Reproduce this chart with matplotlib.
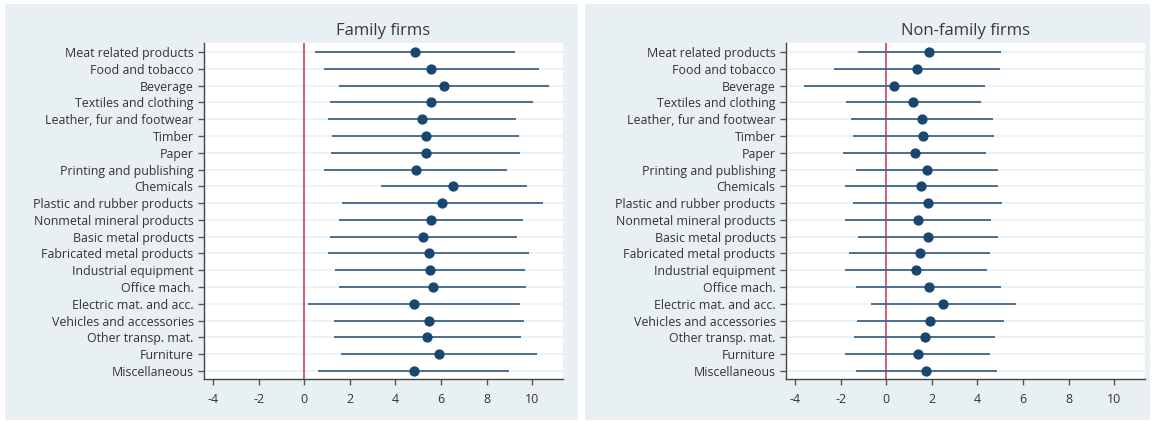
import matplotlib.pyplot as plt
from matplotlib.patches import Rectangle

plt.rcParams['font.family'] = ['Open Sans', 'DejaVu Sans']

# Sectors (top to bottom)
sectors = ["Meat related products", "Food and tobacco", "Beverage",
           "Textiles and clothing", "Leather, fur and footwear", "Timber",
           "Paper", "Printing and publishing", "Chemicals",
           "Plastic and rubber products", "Nonmetal mineral products",
           "Basic metal products", "Fabricated metal products",
           "Industrial equipment", "Office mach.", "Electric mat. and acc.",
           "Vehicles and accessories", "Other transp. mat.", "Furniture",
           "Miscellaneous"]

# Family firms: point estimate, lower and upper CI bounds
fam_est = [4.85, 5.56, 6.11, 5.56, 5.17, 5.32, 5.32, 4.88, 6.54, 6.03,
           5.56, 5.20, 5.45, 5.51, 5.63, 4.80, 5.46, 5.40, 5.93, 4.80]
fam_lo = [0.46, 0.85, 1.51, 1.11, 1.06, 1.22, 1.17, 0.86, 3.35, 1.64,
          1.54, 1.11, 1.06, 1.35, 1.53, 0.15, 1.32, 1.32, 1.63, 0.62]
fam_hi = [9.24, 10.29, 10.72, 10.03, 9.28, 9.43, 9.46, 8.89, 9.77, 10.46,
          9.61, 9.33, 9.85, 9.69, 9.72, 9.46, 9.63, 9.50, 10.23, 8.98]

# Non-family firms
non_est = [1.88, 1.33, 0.36, 1.17, 1.57, 1.63, 1.25, 1.78, 1.54, 1.81,
           1.39, 1.83, 1.46, 1.31, 1.86, 2.49, 1.93, 1.68, 1.38, 1.76]
non_lo = [-1.26, -2.30, -3.61, -1.78, -1.54, -1.46, -1.88, -1.34, -1.83, -1.46,
          -1.83, -1.25, -1.62, -1.81, -1.33, -0.66, -1.28, -1.41, -1.80, -1.34]
non_hi = [5.02, 4.97, 4.34, 4.14, 4.68, 4.74, 4.37, 4.89, 4.89, 5.06,
          4.61, 4.90, 4.55, 4.42, 5.05, 5.68, 5.15, 4.79, 4.55, 4.85]

xticks = [-4, -2, 0, 2, 4, 6, 8, 10]

W, H = 1153, 421
fig = plt.figure(figsize=(W / 100, H / 100), dpi=100)
fig.patch.set_facecolor('white')

bg = '#e8f0f3'
# panel backgrounds (pixel coords from top-left)
for x0, x1 in [(5, 578), (585, 1150)]:
    fig.add_artist(Rectangle((x0 / W, 1 - 420 / H), (x1 - x0) / W, (420 - 4) / H,
                             transform=fig.transFigure, facecolor=bg,
                             edgecolor='none', zorder=0))

def panel(left, right, title, est, lo, hi):
    ax = fig.add_axes([left / W, 1 - 379 / H, (right - left) / W, (379 - 43) / H])
    ax.set_facecolor('white')
    y = list(range(len(sectors)))
    for yy in y:
        ax.axhline(yy, color='#eaf1f4', lw=1.2, zorder=1)
    ax.axvline(0, color='#c8304d', lw=1.1, zorder=2)
    ax.hlines(y, lo, hi, color='#3f6489', lw=1.3, zorder=3)
    ax.plot(est, y, 'o', color='#1a476f', ms=6.4, zorder=4)
    ax.set_xlim(-4.4, 11.35)
    ax.set_ylim(len(sectors) - 0.52, -0.54)
    ax.set_yticks(y)
    ax.set_yticklabels(sectors)
    ax.set_xticks(xticks)
    ax.set_xticklabels([str(t) for t in xticks])
    ax.tick_params(axis='both', colors='#555555', labelcolor='#333333',
                   labelsize=8.9, length=4, width=1)
    ax.tick_params(axis='x', pad=6)
    for s in ['top', 'right']:
        ax.spines[s].set_visible(False)
    for s in ['left', 'bottom']:
        ax.spines[s].set_color('#444444')
        ax.spines[s].set_linewidth(1)
    ax.set_title(title, fontsize=12, color='#3a3a3a', pad=6)
    return ax

panel(204, 563, "Family firms", fam_est, fam_lo, fam_hi)
panel(786, 1145, "Non-family firms", non_est, non_lo, non_hi)

fig.savefig('out.png', dpi=100)
